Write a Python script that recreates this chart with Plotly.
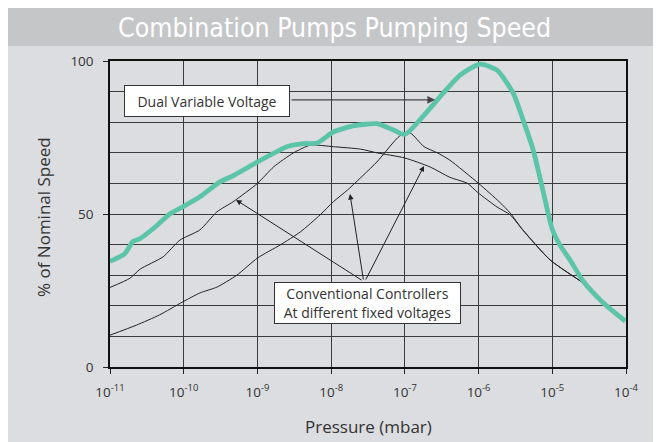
import plotly.graph_objects as go

# pressure as log10(mbar) exponents, speed in % of nominal
dual_exp = [-11, -10.8, -10.69, -10.59, -10.4, -10.19, -10.0, -9.78, -9.51, -9.33,
            -9.0, -8.6, -8.38, -8.19, -7.97, -7.70, -7.38, -7.16, -7.0, -6.75,
            -6.48, -6.25, -5.98, -5.75, -5.53, -5.4, -5.26, -5.12, -5.0, -4.9,
            -4.76, -4.58, -4.31, -4.01]
dual_val = [34.5, 37, 41, 42, 45.5, 50, 52.5, 55.6, 60.5, 62.5,
            67, 72, 73, 73.2, 76.8, 78.8, 79.5, 77.5, 76, 82,
            89.5, 95.4, 99, 97, 89.5, 81, 71, 57, 45, 40,
            35, 28, 21, 15]

conv1_exp = [-11, -10.73, -10.59, -10.28, -10.05, -9.78, -9.55, -9.33, -9.0, -8.78,
             -8.51, -8.28, -7.97, -7.6, -7.38, -7.0, -6.66, -6.39, -6.15, -6.01,
             -5.75, -5.57, -5.4, -5.03, -4.58]
conv1_val = [26, 29, 32, 36, 41.5, 44.8, 50.7, 54, 60, 65.4,
             70, 72.5, 72, 71.2, 70, 68.3, 65.4, 62, 60, 57,
             52.3, 49.7, 44.8, 35, 27.5]

conv2_exp = [-11, -10.64, -10.33, -10.02, -9.78, -9.55, -9.28, -9.0, -8.69, -8.42,
             -8.15, -7.97, -7.78, -7.38, -7.07, -6.93, -6.74, -6.56, -6.39, -6.0,
             -5.72, -5.57, -5.4, -5.03, -4.58]
conv2_val = [10.4, 13.7, 17, 21.2, 24.2, 26.1, 30, 35.6, 39.9, 44.1,
             49.7, 54, 57.8, 67, 75.5, 76.5, 72, 70, 67.6, 60,
             54, 50.3, 44.8, 35, 27.5]

x_tick_exp = [-11, -10, -9, -8, -7, -6, -5, -4]
y_ticks = [0, 50, 100]

TEAL = "#5cc4a9"
INK = "#222222"
FONT = "Open Sans"

fig = go.Figure()

for ex, val in [(conv1_exp, conv1_val), (conv2_exp, conv2_val)]:
    fig.add_trace(go.Scatter(
        x=[10 ** e for e in ex], y=val, mode="lines",
        line=dict(color=INK, width=1, shape="spline", smoothing=0.6),
        showlegend=False, hoverinfo="skip",
    ))

fig.add_trace(go.Scatter(
    x=[10 ** e for e in dual_exp], y=dual_val, mode="lines",
    line=dict(color=TEAL, width=4.8, shape="spline", smoothing=0.6),
    showlegend=False, hoverinfo="skip",
))

# background panels
fig.add_shape(type="rect", xref="paper", yref="paper", x0=-0.2035, x1=1.2,
              y0=-0.4, y1=1.049, fillcolor="#dcdde0", line_width=0, layer="below")
fig.add_shape(type="rect", xref="paper", yref="paper", x0=-0.2035, x1=1.2,
              y0=1.049, y1=1.2, fillcolor="#c5c6c8", line_width=0, layer="below")

annotations = [
    dict(xref="paper", yref="paper", x=0.436, y=1.111, xanchor="center", yanchor="middle",
         text="Combination Pumps Pumping Speed", showarrow=False,
         font=dict(family="DejaVu Sans Condensed", size=26.5, color="white")),
    dict(xref="paper", yref="paper", x=0.5, y=-0.196, xanchor="center", yanchor="middle",
         text="Pressure (mbar)", showarrow=False,
         font=dict(family=FONT, size=17, color="#333")),
    dict(xref="paper", yref="paper", x=-0.13, y=0.49, xanchor="center", yanchor="middle",
         text="% of Nominal Speed", textangle=-90, showarrow=False,
         font=dict(family=FONT, size=17, color="#333")),
]

# arrows (tail -> head), in log10 x and data y
arrows = [
    ((-8.558, 87.3), (-6.59, 87.3), "#444", 1.4),
    ((-7.568, 28.1), (-9.29, 54.6), INK, 1),
    ((-7.56, 28.1), (-7.744, 56.5), INK, 1),
    ((-7.54, 28.1), (-6.74, 65.7), INK, 1),
]
for (tx, ty), (hx, hy), col, w in arrows:
    annotations.append(dict(
        x=hx, y=hy, ax=tx, ay=ty, xref="x", yref="y", axref="x", ayref="y",
        text="", showarrow=True, arrowhead=2, arrowsize=1.1, arrowwidth=w,
        arrowcolor=col, standoff=0, startstandoff=0,
    ))

annotations += [
    dict(x=-9.684, y=86.9, xref="x", yref="y", text="Dual Variable Voltage",
         showarrow=False, bgcolor="white", bordercolor="#333", borderwidth=1,
         width=160, height=26, borderpad=2,
         font=dict(family=FONT, size=14, color="#333")),
    dict(x=-7.507, y=20.9, xref="x", yref="y",
         text="Conventional Controllers<br>At different fixed voltages",
         showarrow=False, bgcolor="white", bordercolor="#333", borderwidth=1,
         width=181, height=36, borderpad=2,
         font=dict(family=FONT, size=14, color="#333")),
]

# page body keeps an 8px margin, so the figure is sized to end at the window edge
fig.update_layout(
    width=653, height=434,
    margin=dict(l=102, r=35, t=53, b=75),
    paper_bgcolor="white", plot_bgcolor="white",
    annotations=annotations,
    font=dict(family=FONT, color="#333"),
)

fig.update_xaxes(
    type="log", range=[-11, -4],
    tickvals=[10 ** e for e in x_tick_exp],
    ticktext=[f"10<sup>{e}</sup>" for e in x_tick_exp],
    ticks="outside", ticklen=5, tickcolor="#222", ticklabelstandoff=7,
    showgrid=True, gridcolor="#3a3a3a", gridwidth=1,
    showline=True, linecolor="#111", linewidth=1.5, mirror=True,
    tickfont=dict(family=FONT, size=13.5, color="#333"),
    zeroline=False,
)
fig.update_yaxes(
    range=[0, 100], tickvals=y_ticks,
    ticks="outside", ticklen=5, tickcolor="#222", ticklabelstandoff=7,
    showgrid=True, gridcolor="#3a3a3a", gridwidth=1,
    minor=dict(dtick=10, showgrid=True, gridcolor="#3a3a3a", gridwidth=1),
    showline=True, linecolor="#111", linewidth=1.5, mirror=True,
    tickfont=dict(family=FONT, size=13.5, color="#333"),
    zeroline=False,
)

fig.write_html("out.html")
